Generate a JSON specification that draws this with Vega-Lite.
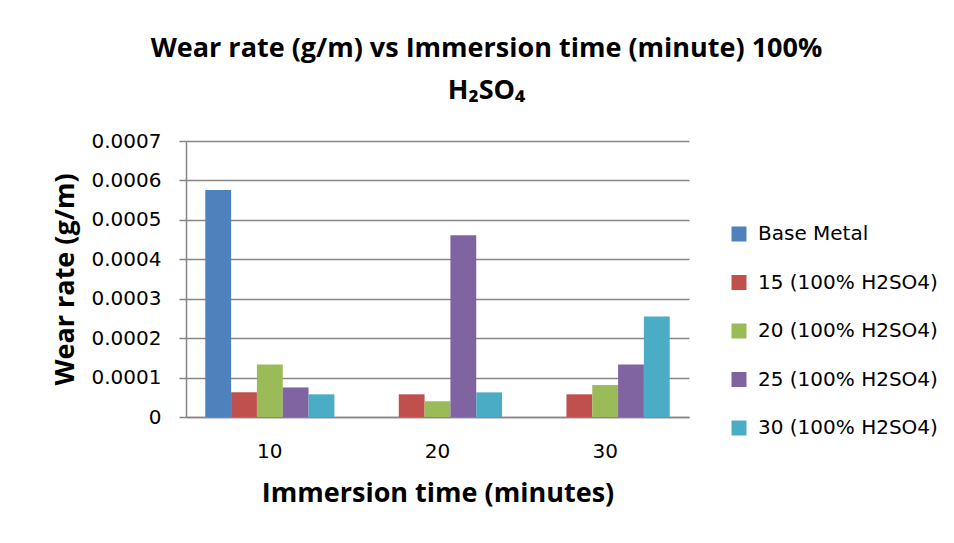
{
  "$schema": "https://vega.github.io/schema/vega-lite/v6.json",
  "autosize": "none",
  "width": 503,
  "height": 276,
  "padding": {"left": 186, "top": 141, "right": 265, "bottom": 126},
  "background": "white",
  "title": {
    "text": ["Wear rate (g/m) vs Immersion time (minute) 100%", "H₂SO₄"],
    "font": "Open Sans",
    "fontSize": 27,
    "fontWeight": "bold",
    "color": "black",
    "anchor": "middle",
    "dx": 49,
    "offset": 26,
    "lineHeight": 42
  },
  "data": {
    "values": [
      {"time": "10", "series": "Base Metal", "value": 0.000576},
      {"time": "10", "series": "15 (100% H2SO4)", "value": 0.0000625},
      {"time": "10", "series": "20 (100% H2SO4)", "value": 0.000133},
      {"time": "10", "series": "25 (100% H2SO4)", "value": 0.000075},
      {"time": "10", "series": "30 (100% H2SO4)", "value": 0.0000575},
      {"time": "20", "series": "15 (100% H2SO4)", "value": 0.0000575},
      {"time": "20", "series": "20 (100% H2SO4)", "value": 0.00004},
      {"time": "20", "series": "25 (100% H2SO4)", "value": 0.000461},
      {"time": "20", "series": "30 (100% H2SO4)", "value": 0.0000625},
      {"time": "30", "series": "15 (100% H2SO4)", "value": 0.0000575},
      {"time": "30", "series": "20 (100% H2SO4)", "value": 0.000081},
      {"time": "30", "series": "25 (100% H2SO4)", "value": 0.000133},
      {"time": "30", "series": "30 (100% H2SO4)", "value": 0.000255}
    ]
  },
  "mark": {"type": "bar"},
  "encoding": {
    "x": {
      "field": "time",
      "type": "nominal",
      "scale": {"paddingInner": 0.23, "paddingOuter": 0.115},
      "axis": {
        "title": "Immersion time (minutes)",
        "titleFont": "Open Sans",
        "titleFontSize": 27,
        "titleFontWeight": "bold",
        "titleColor": "black",
        "titlePadding": 19,
        "labelAngle": 0,
        "labelFont": "DejaVu Sans",
        "labelFontSize": 20,
        "labelColor": "black",
        "labelPadding": 24,
        "ticks": false,
        "domainColor": "#868686",
        "domainWidth": 1.5
      }
    },
    "xOffset": {
      "field": "series",
      "type": "nominal",
      "sort": ["Base Metal", "15 (100% H2SO4)", "20 (100% H2SO4)", "25 (100% H2SO4)", "30 (100% H2SO4)"],
      "scale": {"paddingInner": 0, "paddingOuter": 0}
    },
    "y": {
      "field": "value",
      "type": "quantitative",
      "scale": {"domain": [0, 0.0007], "nice": false},
      "axis": {
        "title": "Wear rate (g/m)",
        "titleFont": "Open Sans",
        "titleFontSize": 27,
        "titleFontWeight": "bold",
        "titleColor": "black",
        "titlePadding": 12,
        "values": [0, 0.0001, 0.0002, 0.0003, 0.0004, 0.0005, 0.0006, 0.0007],
        "format": ".4~f",
        "labelFont": "DejaVu Sans",
        "labelFontSize": 20,
        "labelColor": "black",
        "labelPadding": 18,
        "tickSize": 7,
        "tickColor": "#868686",
        "tickWidth": 1.5,
        "domainColor": "#868686",
        "domainWidth": 1.5,
        "grid": true,
        "gridColor": "#868686",
        "gridWidth": 1.5
      }
    },
    "color": {
      "field": "series",
      "type": "nominal",
      "sort": ["Base Metal", "15 (100% H2SO4)", "20 (100% H2SO4)", "25 (100% H2SO4)", "30 (100% H2SO4)"],
      "scale": {"range": ["#4F81BD", "#C0504D", "#9BBB59", "#8064A2", "#4BACC6"]},
      "legend": {
        "title": null,
        "orient": "none",
        "legendX": 543,
        "legendY": 83,
        "symbolType": "square",
        "symbolSize": 225,
        "symbolStrokeWidth": 0,
        "symbolOpacity": 1,
        "labelFont": "DejaVu Sans",
        "labelFontSize": 20,
        "labelColor": "black",
        "labelOffset": 9,
        "labelLimit": 400,
        "rowPadding": 28.5
      }
    }
  },
  "config": {"view": {"stroke": null}}
}
